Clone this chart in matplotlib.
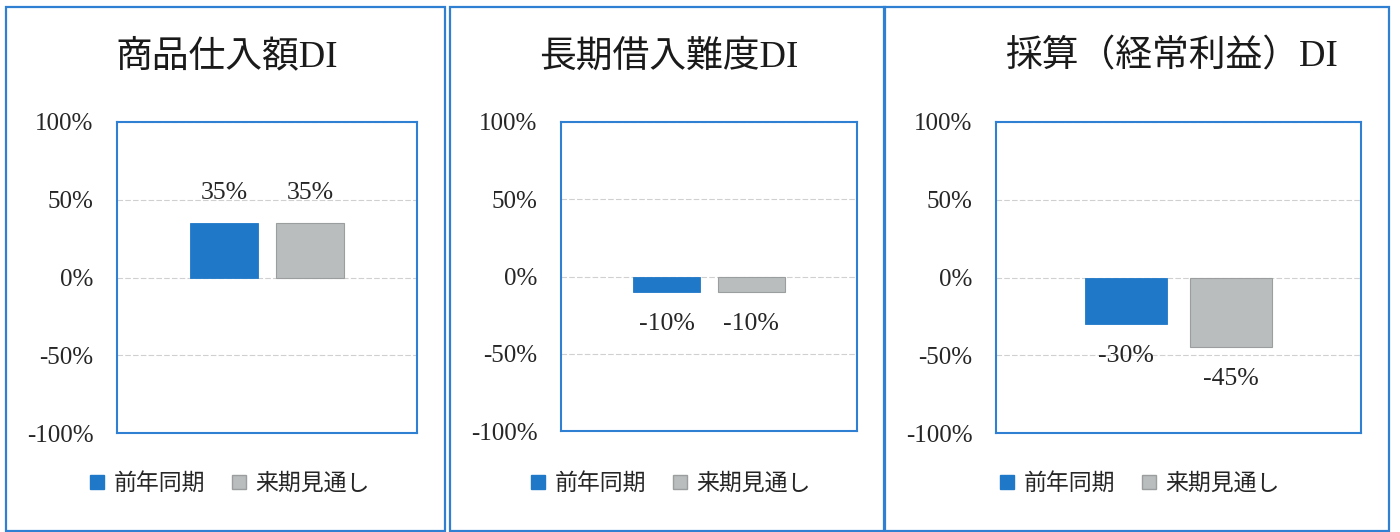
import matplotlib
matplotlib.use("Agg")
import matplotlib.pyplot as plt
from matplotlib.patches import Rectangle, Patch
from matplotlib.ticker import FuncFormatter

# Data
titles = ["商品仕入額DI", "長期借入難度DI", "採算（経常利益）DI"]
series_names = ["前年同期", "来期見通し"]
prev_year = [35, -10, -30]      # 前年同期
next_term = [35, -10, -45]      # 来期見通し
yticks = [-100, -50, 0, 50, 100]

W, H = 1400, 532
fig = plt.figure(figsize=(W / 100, H / 100), dpi=100)
fig.patch.set_facecolor("white")

FONT = ["Liberation Serif", "Noto Sans CJK JP"]
BLUE = "#1f78c8"
GRAY = "#b9bdbd"
FRAME = "#2f80d2"

# pixel layout: (panel left, panel right, plot left, plot right, plot top, plot bottom, title x, legend x)
layout = [
    (6, 445, 117, 417, 122, 433, 227, 230),
    (450, 885, 561, 857, 122, 431, 669, 671),
    (884, 1389, 996, 1361, 122, 433, 1171, 1140),
]


def fx(px):
    return px / W


def fy(py):
    return 1 - py / H


for i, (pl, pr, al, ar, at, ab, tx, lx) in enumerate(layout):
    # panel frame
    fig.patches.append(Rectangle((fx(pl), fy(531)), fx(pr - pl), (531 - 7) / H,
                                 transform=fig.transFigure, fill=False,
                                 edgecolor=FRAME, lw=1.6, zorder=0))
    ax = fig.add_axes([fx(al), fy(ab), fx(ar - al), (ab - at) / H])
    width = 0.225
    off = 0.143
    vals = [prev_year[i], next_term[i]]
    ax.bar([-off], [vals[0]], width=width, color=BLUE, edgecolor=BLUE, lw=0.6, zorder=3)
    ax.bar([off], [vals[1]], width=width, color=GRAY, edgecolor="#9a9e9e", lw=0.8, zorder=3)
    for x, v in zip([-off, off], vals):
        dy = 22 if v >= 0 else -23
        ax.annotate(f"{v}%", (x, v), xytext=(0, dy), textcoords="offset points",
                    ha="center", va="center", fontsize=18.5, family=FONT, color="#262626")
    ax.set_xlim(-0.5, 0.5)
    ax.set_ylim(-100, 100)
    ax.set_yticks(yticks)
    ax.yaxis.set_major_formatter(FuncFormatter(lambda v, p: f"{int(v)}%"))
    ax.set_xticks([])
    ax.tick_params(axis="y", length=0, pad=17, labelsize=18, labelcolor="#262626")
    for lbl in ax.get_yticklabels():
        lbl.set_family(FONT)
    ax.grid(axis="y", color="#d0d0d0", lw=0.8, linestyle=(0, (5, 2)), zorder=0)
    for s in ax.spines.values():
        s.set_color(FRAME)
        s.set_linewidth(1.5)
    fig.text(fx(tx), fy(57), titles[i], ha="center", va="center",
             fontsize=26.5, family=FONT, color="#1a1a1a")
    handles = [Patch(facecolor=BLUE, edgecolor=BLUE), Patch(facecolor=GRAY, edgecolor="#9a9e9e")]
    leg = fig.legend(handles, series_names, loc="center", bbox_to_anchor=(fx(lx), fy(484)),
                     ncol=2, frameon=False, handlelength=0.6, handleheight=0.6,
                     handletextpad=0.4, columnspacing=1.2,
                     prop={"family": FONT, "size": 16.5})
    for t in leg.get_texts():
        t.set_color("#262626")

fig.savefig("out.png", dpi=100, facecolor="white")
